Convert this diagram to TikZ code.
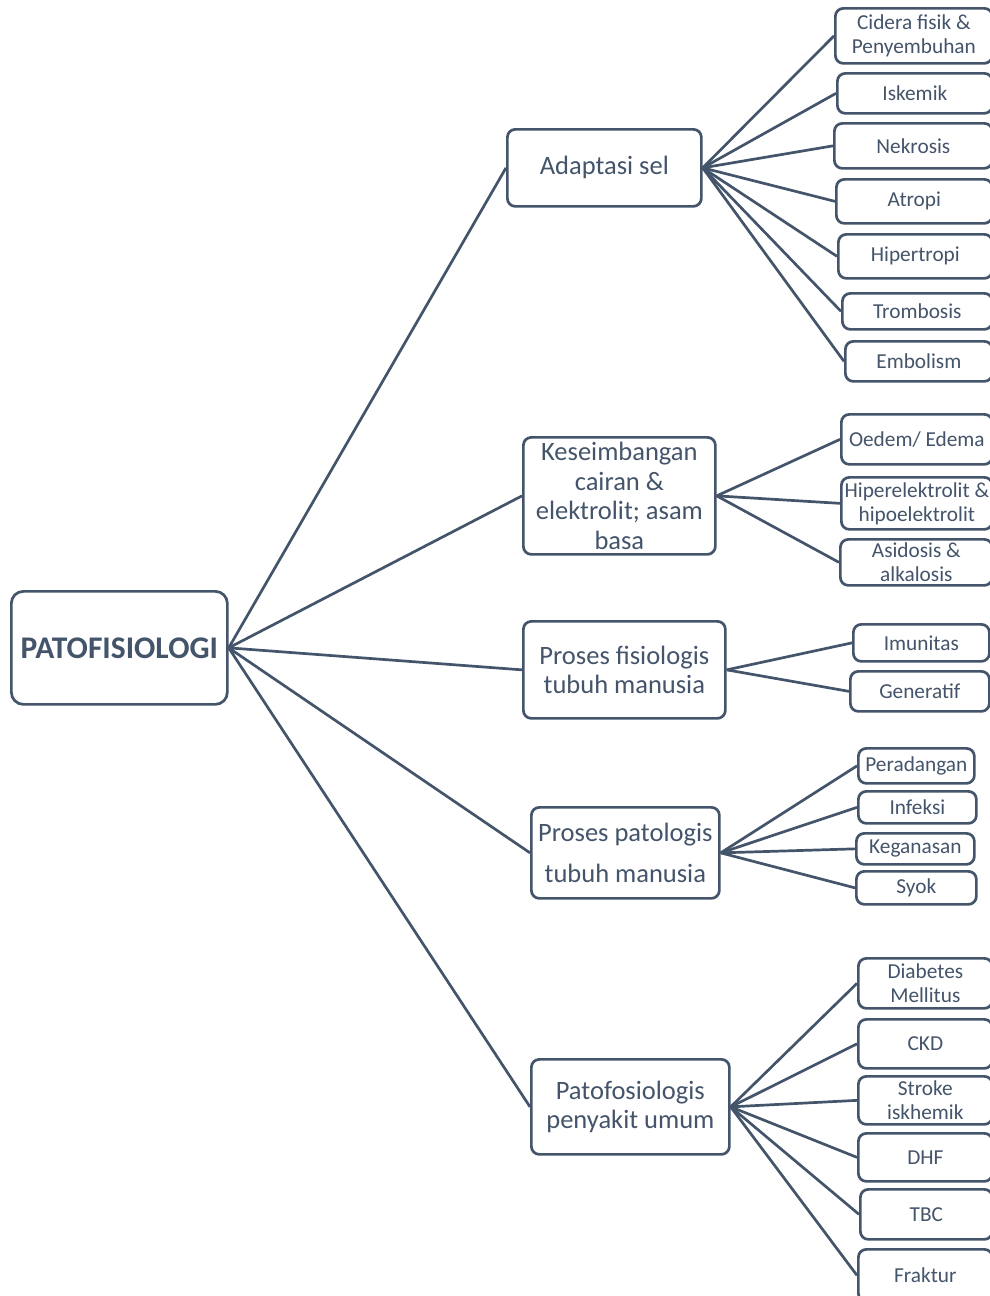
\documentclass[tikz,border=0pt]{standalone}
\usepackage{fontspec}
\setmainfont{Carlito}
\definecolor{slate}{HTML}{44546A}
\begin{document}
\begin{tikzpicture}[x=1pt,y=-1pt,
  base/.style={draw=slate, line width=2.7pt, rounded corners=8pt, text=slate, align=center, inner sep=0pt, anchor=north west, fill=white},
  leaf/.style={base, font=\fontsize{21.3}{24}\selectfont},
  cat/.style={base, font=\fontsize{26.5}{29.5}\selectfont},
  rootbox/.style={base, rounded corners=12pt, font=\fontsize{31.5}{36}\selectfont\bfseries},
  link/.style={draw=slate, line width=2.7pt}]
\useasboundingbox (0,0) rectangle (990,1296);
% helper: box from (l,t) to (r,b)
\newcommand{\bx}[7]{\node[#1, minimum width=#4-#2, minimum height=#5-#3] (#6) at (#2,#3) {#7};}
% root
\bx{rootbox}{10}{590}{226}{703}{root}{PATOFISIOLOGI}
% categories
\bx{cat}{506}{128}{700}{205}{c1}{Adaptasi sel}
\bx{cat}{522}{436}{714}{553}{c2}{Keseimbangan\\cairan \&\\elektrolit; asam\\basa}
\bx{cat}{522}{620}{724}{717}{c3}{Proses fisiologis\\tubuh manusia}
\bx{cat}{530}{806}{718}{897}{c4}{Proses patologis\\[11pt]tubuh manusia}
\bx{cat}{530}{1058}{728}{1153}{c5}{Patofosiologis\\penyakit umum}
% leaves of c1
\bx{leaf}{834}{7}{991}{62}{l11}{Cidera fisik \&\\Penyembuhan}
\bx{leaf}{836}{72}{991}{112}{l12}{Iskemik}
\bx{leaf}{833}{122}{991}{167}{l13}{Nekrosis}
\bx{leaf}{835}{178}{991}{222}{l14}{Atropi}
\bx{leaf}{837}{233}{991}{277}{l15}{Hipertropi}
\bx{leaf}{841}{292}{991}{328}{l16}{Trombosis}
\bx{leaf}{844}{340}{991}{380}{l17}{Embolism}
% leaves of c2
\bx{leaf}{840}{413}{991}{463}{l21}{Oedem/ Edema}
\bx{leaf}{840}{476}{991}{528}{l22}{Hiperelektrolit \&\\hipoelektrolit}
\bx{leaf}{839}{538}{991}{584}{l23}{Asidosis \&\\alkalosis}
% leaves of c3
\bx{leaf}{852}{623}{988}{660}{l31}{Imunitas}
\bx{leaf}{849}{670}{988}{710}{l32}{Generatif}
% leaves of c4
\bx{leaf}{857}{747}{973}{782}{l41}{Peradangan}
\bx{leaf}{857}{790}{975}{822}{l42}{Infeksi}
\bx{leaf}{855}{832}{973}{863}{l43}{Keganasan}
\bx{leaf}{855}{870}{975}{903}{l44}{Syok}
% leaves of c5
\bx{leaf}{857}{957}{991}{1007}{l51}{Diabetes\\Mellitus}
\bx{leaf}{857}{1018}{991}{1067}{l52}{CKD}
\bx{leaf}{857}{1075}{991}{1123}{l53}{Stroke\\iskhemik}
\bx{leaf}{857}{1132}{991}{1180}{l54}{DHF}
\bx{leaf}{859}{1188}{991}{1238}{l55}{TBC}
\node[leaf, minimum width=134, minimum height=52, anchor=north west] (l56) at (857,1248) {\raisebox{-2pt}{Fraktur}};
% connectors
\foreach \c in {c1,c2,c3,c4,c5} \draw[link] (root.east) -- (\c.west);
\foreach \l in {l11,l12,l13,l14,l15,l16,l17} \draw[link] (c1.east) -- (\l.west);
\foreach \l in {l21,l22,l23} \draw[link] (c2.east) -- (\l.west);
\foreach \l in {l31,l32} \draw[link] (c3.east) -- (\l.west);
\foreach \l in {l41,l42,l43,l44} \draw[link] (c4.east) -- (\l.west);
\foreach \l in {l51,l52,l53,l54,l55} \draw[link] (c5.east) -- (\l.west);
\draw[link] (c5.east) -- (l56.west);
\end{tikzpicture}
\end{document}
